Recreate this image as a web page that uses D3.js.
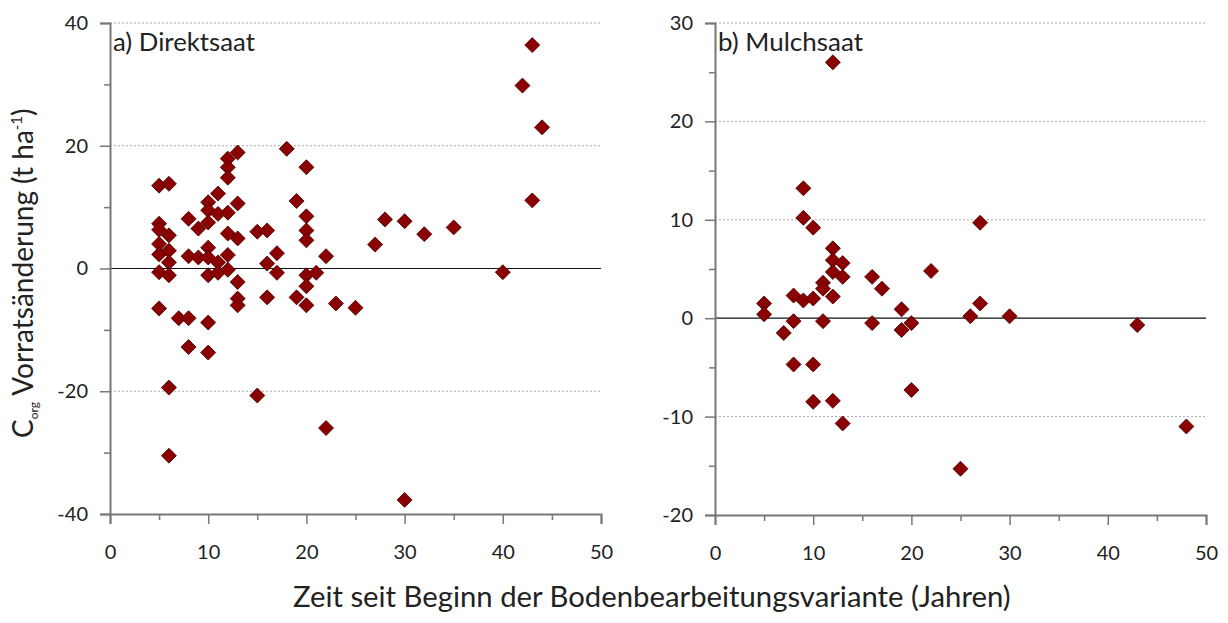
<!DOCTYPE html>
<html><head><meta charset="utf-8">
<script src="https://cdn.jsdelivr.net/npm/d3@7"></script>
<style>body{margin:0;background:#fff}svg{display:block}text{font-family:Lato,"Open Sans",sans-serif;fill:#222}</style>
</head><body><svg id="c" width="1228" height="623"></svg>
<script>
// Panel a) Direktsaat
const directYears = [5,5,5,5,5,5,5, 6,6,6,6,6,6,6, 7, 8,8,8,8, 9,9, 10,10,10,10,10,10,10,10, 11,11,11,11, 12,12,12,12,12,12,12, 13,13,13,13,13,13, 15,15, 16,16,16, 17,17, 18, 19,19, 20,20,20,20,20,20,20, 21, 22,22, 23, 25, 27, 28, 30,30, 32, 35, 40, 42, 43,43, 44];
const directValues = [13.5,7.3,6.3,4.0,2.3,-0.6,-6.5, 13.8,5.4,2.9,1.0,-1.1,-19.4,-30.5, -8.1, 8.1,2.0,-8.1,-12.8, 6.5,1.8, 10.8,9.5,7.5,3.4,1.8,-1.1,-8.8,-13.7, 12.2,8.9,1.0,-0.7, 17.9,16.5,14.8,9.1,5.7,2.2,-0.2, 18.9,10.6,4.9,-2.2,-4.9,-6.0, 6.0,-20.7, 6.2,0.8,-4.7, 2.5,-0.7, 19.5, 11.0,-4.7, 16.5,8.5,6.2,4.6,-1.1,-2.9,-6.0, -0.7, 2.0,-26.0, -5.7, -6.4, 3.9, 8.0, 7.7,-37.7, 5.6, 6.7, -0.6, 29.8, 36.4,11.1, 23.0];
// Panel b) Mulchsaat
const mulchYears = [5,5, 7, 8,8,8, 9,9,9, 10,10,10,10, 11,11,11, 12,12,12,12,12,12, 13,13,13, 16,16, 17, 19,19, 20,20, 22, 25, 26, 27,27, 30, 43, 48];
const mulchValues = [1.5,0.4, -1.5, 2.3,-0.3,-4.7, 13.2,10.2,1.8, 9.2,2.0,-4.7,-8.5, 3.6,3.0,-0.3, 26.0,7.1,5.9,4.7,2.2,-8.4, 5.6,4.2,-10.7, 4.2,-0.5, 3.0, 0.9,-1.2, -0.5,-7.3, 4.8, -15.3, 0.2, 9.7,1.5, 0.2, -0.7, -11.0];

const xTicks = [0,10,20,30,40,50];
const leftYTicks = [-40,-20,0,20,40];
const rightYTicks = [-20,-10,0,10,20,30];

const svg = d3.select("#c");
const plotTop = 23;

function fitWidth(sel, target){
  const w = sel.node().getComputedTextLength();
  const fs = parseFloat(sel.attr("font-size"));
  sel.attr("font-size", fs * target / w);
}

function panel(cfg){
  const g = svg.append("g");
  const x = d3.scaleLinear().domain([0,50]).range([cfg.x0, cfg.x1]);
  const y = d3.scaleLinear().domain(cfg.yDomain).range([cfg.yBottom, plotTop]);
  cfg.yTicks.filter(v=>v!==0 && v!==cfg.yDomain[0]).forEach(v=>{
    g.append("line").attr("x1",cfg.x0).attr("x2",cfg.x1).attr("y1",y(v)).attr("y2",y(v))
      .attr("stroke","#aaa").attr("stroke-width",1).attr("stroke-dasharray","2,2");
  });
  g.append("line").attr("x1",cfg.x0).attr("x2",cfg.x1).attr("y1",y(0)).attr("y2",y(0))
    .attr("stroke","#111").attr("stroke-width",1.2);
  const fmt = d => String(d);
  const yMinor = d3.range(cfg.yDomain[0], cfg.yDomain[1]+0.001, cfg.yStep/2).filter(v=>!cfg.yTicks.includes(v));
  const ya = g.append("g").attr("transform",`translate(${cfg.x0},0)`)
    .call(d3.axisLeft(y).tickValues(cfg.yTicks).tickSize(10).tickPadding(12).tickFormat(fmt));
  ya.select(".domain").attr("stroke","#777").attr("stroke-width",2);
  ya.selectAll(".tick line").attr("stroke","#777").attr("stroke-width",1.5);
  ya.selectAll("text").attr("font-size",20).attr("fill","#222").style("font-family","Lato");
  const ym = g.append("g").attr("transform",`translate(${cfg.x0},0)`)
    .call(d3.axisLeft(y).tickValues(yMinor).tickSize(6).tickFormat(""));
  ym.select(".domain").remove();
  ym.selectAll(".tick line").attr("stroke","#777").attr("stroke-width",1.5);
  const xMinor = [5,15,25,35,45];
  const xa = g.append("g").attr("transform",`translate(0,${cfg.yBottom})`)
    .call(d3.axisBottom(x).tickValues(xTicks).tickSize(10).tickPadding(21).tickFormat(fmt));
  xa.select(".domain").attr("stroke","#777").attr("stroke-width",2);
  xa.selectAll(".tick line").attr("stroke","#777").attr("stroke-width",1.5);
  xa.selectAll("text").attr("font-size",20).attr("fill","#222").style("font-family","Lato");
  const xm = g.append("g").attr("transform",`translate(0,${cfg.yBottom})`)
    .call(d3.axisBottom(x).tickValues(xMinor).tickSize(6).tickFormat(""));
  xm.select(".domain").remove();
  xm.selectAll(".tick line").attr("stroke","#777").attr("stroke-width",1.5);
  const sym = d3.symbol().type(d3.symbolSquare).size(112);
  g.append("g").selectAll("path").data(cfg.xs.map((d,i)=>[d,cfg.vs[i]])).join("path")
    .attr("d",sym)
    .attr("transform",d=>`translate(${x(d[0])},${y(d[1])}) rotate(45)`)
    .attr("fill","#8b0000").attr("stroke","#4a0000").attr("stroke-width",0.8);
  const lab = g.append("text").attr("x",cfg.x0+3).attr("y",51).attr("font-size",22).text(cfg.label);
  fitWidth(lab, cfg.labelWidth);
}

panel({x0:110,x1:601,yBottom:514,yDomain:[-40,40],yTicks:leftYTicks,yStep:20,xs:directYears,vs:directValues,label:"a) Direktsaat",labelWidth:142});
panel({x0:715,x1:1206,yBottom:515,yDomain:[-20,30],yTicks:rightYTicks,yStep:10,xs:mulchYears,vs:mulchValues,label:"b) Mulchsaat",labelWidth:145});

const xt = svg.append("text").attr("x",293).attr("y",607).attr("font-size",24)
  .text("Zeit seit Beginn der Bodenbearbeitungsvariante (Jahren)");
fitWidth(xt, 718);
const yt = svg.append("text").attr("transform","translate(33,438) rotate(-90)").attr("text-anchor","start").attr("font-size",28);
yt.append("tspan").text("C");
yt.append("tspan").attr("font-size",12).attr("dy",5).text("org");
yt.append("tspan").attr("dy",-5).text(" Vorratsänderung (t ha");
yt.append("tspan").attr("font-size",15).attr("dy",-11).text("-1");
yt.append("tspan").attr("dy",11).text(")");
</script></body></html>
